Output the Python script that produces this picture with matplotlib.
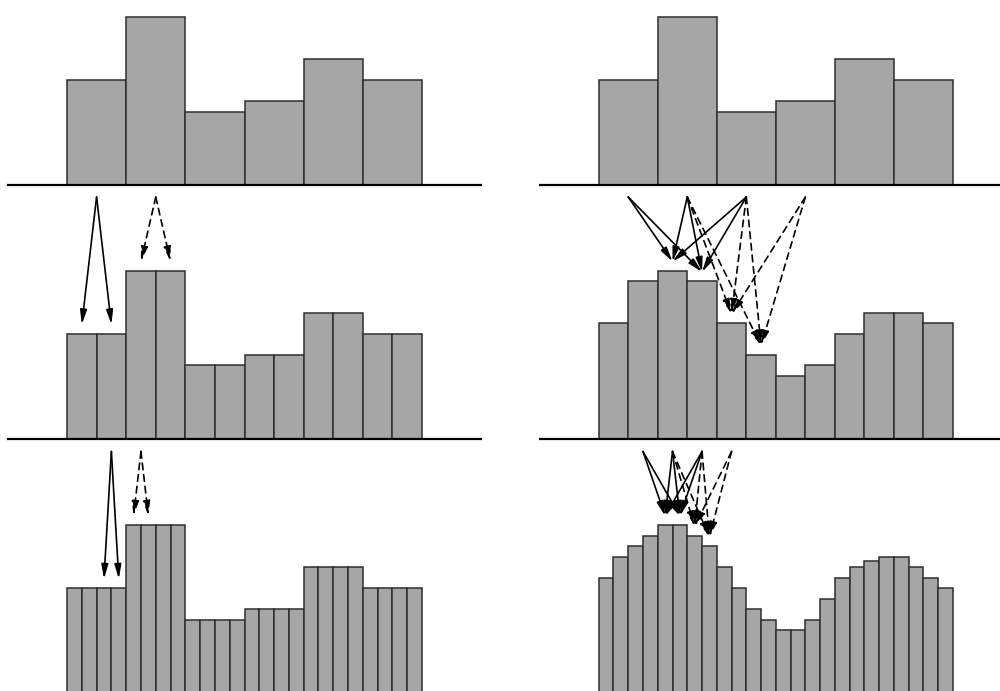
import matplotlib
matplotlib.use("Agg")
import matplotlib.pyplot as plt
from matplotlib.patches import FancyArrowPatch

# ---- data ----
level0 = [5, 8, 3.5, 4, 6, 5]
left_level1 = [5, 5, 8, 8, 3.5, 3.5, 4, 4, 6, 6, 5, 5]
left_level2 = [5, 5, 5, 5, 8, 8, 8, 8, 3.5, 3.5, 3.5, 3.5,
               4, 4, 4, 4, 6, 6, 6, 6, 5, 5, 5, 5]
right_level1 = [5.5, 7.5, 8, 7.5, 5.5, 4, 3, 3.5, 5, 6, 6, 5.5]
right_level2 = [5.5, 6.5, 7, 7.5, 8, 8, 7.5, 7, 6, 5, 4, 3.5,
                3, 3, 3.5, 4.5, 5.5, 6, 6.3, 6.5, 6.5, 6, 5.5, 5]

# arrows: (parent indices, child indices, style)
left_arrows_1 = [([0], [0, 1], "solid"), ([1], [2, 3], "dashed")]
left_arrows_2 = [([1], [2, 3], "solid"), ([2], [4, 5], "dashed")]
right_arrows_1 = [([0, 1, 2], [2, 3], "solid"), ([1, 2, 3], [4, 5], "dashed")]
right_arrows_2 = [([1, 2, 3], [4, 5], "solid"), ([2, 3, 4], [6, 7], "dashed")]

W, H = 1000, 691
fig = plt.figure(figsize=(W / 100, H / 100), dpi=100)

PX_PER_UNIT_Y = 21.0
SPAN = 6.0
XLIM = (-1.0, 7.0)
baselines = [185, 438.5, 693]
AX_H_PX = 185
BAR_COLOR = "#a6a6a6"
EDGE = "#2e2e2e"

def make_ax(x0_px, px_per_unit_x, level):
    left = x0_px - (0 - XLIM[0]) * px_per_unit_x
    width = (XLIM[1] - XLIM[0]) * px_per_unit_x
    base = baselines[level]
    ax = fig.add_axes([left / W, 1 - base / H, width / W, AX_H_PX / H])
    ax.set_xlim(*XLIM)
    ax.set_ylim(0, AX_H_PX / PX_PER_UNIT_Y)
    ax.axis("off")
    return ax

def draw_bars(ax, vals):
    n = len(vals)
    w = SPAN / n
    xs = [(i + 0.5) * w for i in range(n)]
    ax.bar(xs, vals, width=w, color=BAR_COLOR, edgecolor=EDGE, linewidth=1.1,
           zorder=2, clip_on=False)
    ax.axhline(0, color="black", linewidth=1.6, zorder=3, clip_on=False)

def draw_arrows(ax, parent_n, child_vals, arrows):
    n = len(child_vals)
    wc = SPAN / n
    wp = SPAN / parent_n
    gap_units = (baselines[1] - baselines[0]) / PX_PER_UNIT_Y
    y_start = gap_units - 12 / PX_PER_UNIT_Y
    for parents, children, style in arrows:
        ls = "-" if style == "solid" else (0, (4.0, 3.0))
        for p in parents:
            for c in children:
                xp = (p + 0.5) * wp
                xc = (c + 0.5) * wc
                yc = child_vals[c] + 9 / PX_PER_UNIT_Y
                arr = FancyArrowPatch((xp, y_start), (xc, yc),
                                      arrowstyle="-|>,head_length=0.85,head_width=0.2",
                                      mutation_scale=10, linewidth=1.2,
                                      linestyle=ls, color="black",
                                      shrinkA=0, shrinkB=0, clip_on=False,
                                      zorder=4)
                ax.add_patch(arr)

# left column
lx0, lppu = 67.0, 59.17
axL0 = make_ax(lx0, lppu, 0); draw_bars(axL0, level0)
axL1 = make_ax(lx0, lppu, 1); draw_bars(axL1, left_level1)
draw_arrows(axL1, len(level0), left_level1, left_arrows_1)
axL2 = make_ax(lx0, lppu, 2); draw_bars(axL2, left_level2)
draw_arrows(axL2, len(left_level1), left_level2, left_arrows_2)

# right column
rx0, rppu = 598.7, 59.05
axR0 = make_ax(rx0, rppu, 0); draw_bars(axR0, level0)
axR1 = make_ax(rx0, rppu, 1); draw_bars(axR1, right_level1)
draw_arrows(axR1, len(level0), right_level1, right_arrows_1)
axR2 = make_ax(rx0, rppu, 2); draw_bars(axR2, right_level2)
draw_arrows(axR2, len(right_level1), right_level2, right_arrows_2)

fig.savefig("out.png", dpi=100)
